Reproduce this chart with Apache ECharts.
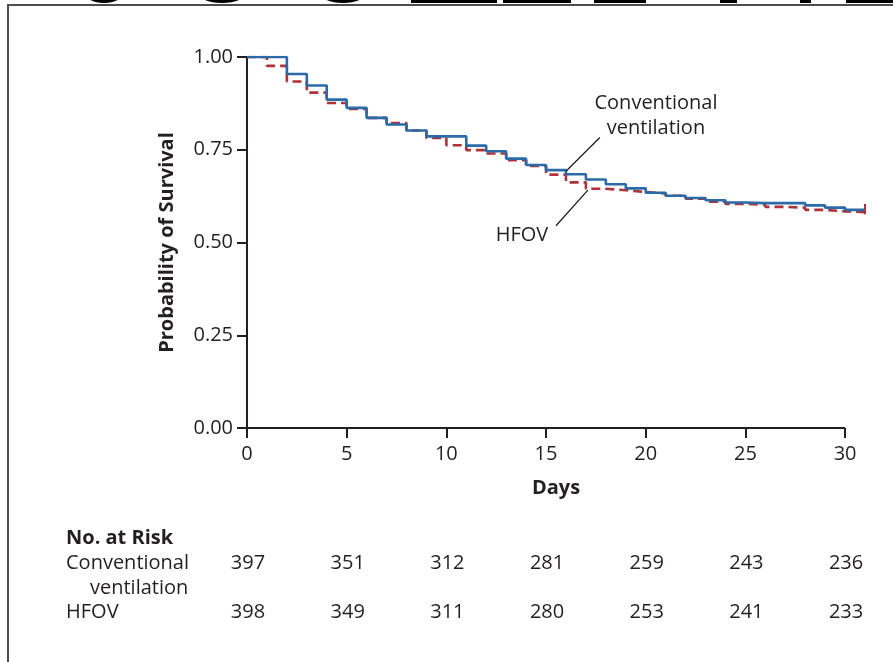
<!DOCTYPE html>
<html style="height: 100%;width: 100%">
<head>
    <meta charset="UTF-8">
    <script type="text/javascript" src="https://cdn.jsdelivr.net/npm/echarts@6/dist/echarts.min.js"></script>
    <title>Survival</title>
    <style>
        html, body { margin: 0; padding: 0; background: #fff; }
    </style>
</head>
<body style="width: 100%;height: 100%;">
<div id="main" style="width: 893px;height:662px;"></div>
<script type="text/javascript">
    // days (step starts), curve values
    var days = [0,1,2,3,4,5,6,7,8,9,10,11,12,13,14,15,16,17,18,19,20,21,22,23,24,25,26,27,28,29,30,31];
    var conventional = [1.000,1.000,0.954,0.923,0.885,0.863,0.836,0.818,0.802,0.786,0.786,0.761,0.746,0.726,0.709,0.695,
                        0.684,0.670,0.657,0.646,0.634,0.626,0.620,0.614,0.608,0.606,0.606,0.606,0.600,0.594,0.588,0.588];
    var hfov = [1.000,0.976,0.934,0.904,0.876,0.860,0.836,0.822,0.802,0.782,0.762,0.749,0.740,0.722,0.706,0.683,
                0.662,0.645,0.641,0.636,0.632,0.626,0.618,0.610,0.604,0.602,0.596,0.594,0.588,0.584,0.582,0.582];

    // axis ticks
    var xTicks = [0, 5, 10, 15, 20, 25, 30];
    var yTicks = [0, 0.25, 0.5, 0.75, 1];

    // number at risk table
    var riskConventional = [397, 351, 312, 281, 259, 243, 236];
    var riskHfov = [398, 349, 311, 280, 253, 241, 233];

    var FONT = 'Open Sans';
    var TXT = '#231f20';
    var FS = 20;

    function pairs(xs, ys) {
        var out = [];
        for (var i = 0; i < xs.length; i++) out.push([xs[i], ys[i]]);
        return out;
    }

    var last = days.length - 1;
    var myChart = echarts.init(document.getElementById('main'));

    var option = {
        backgroundColor: '#fff',
        animation: false,
        grid: { left: 247, right: 28, top: 57, bottom: 234 },
        xAxis: {
            type: 'value', min: 0, max: 31,
            name: 'Days', nameLocation: 'middle', nameGap: 50,
            nameTextStyle: { fontFamily: FONT, fontWeight: 'bold', fontSize: FS, color: TXT },
            axisLine: { show: false },
            axisTick: { show: true, length: 10, customValues: xTicks, lineStyle: { color: '#231f20', width: 2 } },
            axisLabel: { margin: 16, customValues: xTicks, fontFamily: FONT, fontSize: FS, color: TXT },
            splitLine: { show: false }
        },
        yAxis: {
            type: 'value', min: 0, max: 1,
            name: 'Probability of Survival', nameLocation: 'middle', nameGap: 70,
            nameTextStyle: { fontFamily: FONT, fontWeight: 'bold', fontSize: FS, color: TXT },
            axisLine: { show: true, lineStyle: { color: '#231f20', width: 2 } },
            axisTick: { show: true, length: 10, customValues: yTicks, lineStyle: { color: '#231f20', width: 2 } },
            axisLabel: {
                margin: 14, customValues: yTicks, fontFamily: FONT, fontSize: FS, color: TXT,
                formatter: function (v) { return v.toFixed(2); }
            },
            splitLine: { show: false }
        },
        series: [
            {
                name: 'HFOV', type: 'line', step: 'end',
                symbol: 'none', data: pairs(days, hfov),
                lineStyle: { color: '#ad3338', width: 2.6, type: [9, 5] },
                z: 2,
                markLine: {
                    silent: true, symbol: 'none', label: { show: false },
                    lineStyle: { color: '#ad3338', width: 2, type: 'solid' },
                    data: [
                        // censor tick at the end of the curve
                        [{ coord: [days[last], hfov[last] - 0.006] }, { coord: [days[last], hfov[last] + 0.022] }]
                    ]
                }
            },
            {
                name: 'Conventional ventilation', type: 'line', step: 'end',
                symbol: 'none', data: pairs(days, conventional),
                lineStyle: { color: '#2a6aa6', width: 2.6 },
                z: 3,
                markLine: {
                    silent: true, symbol: 'none', label: { show: false },
                    lineStyle: { color: '#231f20', width: 1.3, type: 'solid' },
                    data: [
                        // x axis line, stops at day 30
                        [{ coord: [0, 0], lineStyle: { width: 2 } }, { coord: [30, 0] }],
                        // leader lines for the two labels
                        [{ coord: [17.7, 0.783] }, { coord: [16.0, 0.692] }],
                        [{ coord: [15.5, 0.545] }, { coord: [17.1, 0.641] }]
                    ]
                }
            }
        ],
        graphic: []
    };
    myChart.setOption(option);

    // frame and the cut-off lettering above it
    var g = [
        { type: 'rect', shape: { x: 8, y: 5, width: 900, height: 700 },
          style: { fill: 'none', stroke: '#4d4d4d', lineWidth: 2 }, z: 10 },
        { type: 'ellipse', shape: { cx: 104, cy: -8, rx: 20, ry: 11 }, style: { fill: '#000' } },
        { type: 'ellipse', shape: { cx: 222, cy: -8, rx: 25, ry: 11 }, style: { fill: '#000' } },
        { type: 'ellipse', shape: { cx: 343, cy: -8, rx: 24, ry: 11 }, style: { fill: '#000' } },
        { type: 'rect', shape: { x: 411, y: 0, width: 86, height: 3 }, style: { fill: '#000' } },
        { type: 'rect', shape: { x: 503, y: 0, width: 68, height: 3 }, style: { fill: '#000' } },
        { type: 'rect', shape: { x: 594, y: 0, width: 52, height: 3 }, style: { fill: '#000' } },
        { type: 'rect', shape: { x: 720, y: 0, width: 17, height: 3 }, style: { fill: '#000' } },
        { type: 'rect', shape: { x: 800, y: 0, width: 11, height: 3 }, style: { fill: '#000' } },
        { type: 'rect', shape: { x: 846, y: 0, width: 47, height: 3 }, style: { fill: '#000' } }
    ];

    var font = FS + 'px "' + FONT + '"';

    // curve labels
    g.push({ type: 'text', x: 656, y: 116,
        style: { text: 'Conventional\nventilation', fill: TXT, font: font,
                 textAlign: 'center', textVerticalAlign: 'middle', lineHeight: 25 } });
    g.push({ type: 'text', x: 522, y: 235,
        style: { text: 'HFOV', fill: TXT, font: font,
                 textAlign: 'center', textVerticalAlign: 'middle' } });

    // no. at risk table
    g.push({ type: 'text', x: 66, y: 538,
        style: { text: 'No. at Risk', fill: TXT, font: 'bold ' + font, textVerticalAlign: 'middle' } });
    g.push({ type: 'text', x: 66, y: 563,
        style: { text: 'Conventional', fill: TXT, font: font, textVerticalAlign: 'middle' } });
    g.push({ type: 'text', x: 90, y: 588,
        style: { text: 'ventilation', fill: TXT, font: font, textVerticalAlign: 'middle' } });
    g.push({ type: 'text', x: 66, y: 612,
        style: { text: 'HFOV', fill: TXT, font: font, textVerticalAlign: 'middle' } });
    for (var i = 0; i < xTicks.length; i++) {
        var px = myChart.convertToPixel({ gridIndex: 0 }, [xTicks[i], 0])[0];
        g.push({ type: 'text', x: px + 1, y: 563,
            style: { text: String(riskConventional[i]), fill: TXT, font: font,
                     textAlign: 'center', textVerticalAlign: 'middle' } });
        g.push({ type: 'text', x: px + 1, y: 612,
            style: { text: String(riskHfov[i]), fill: TXT, font: font,
                     textAlign: 'center', textVerticalAlign: 'middle' } });
    }

    myChart.setOption({ graphic: g });
</script>
</body>
</html>
